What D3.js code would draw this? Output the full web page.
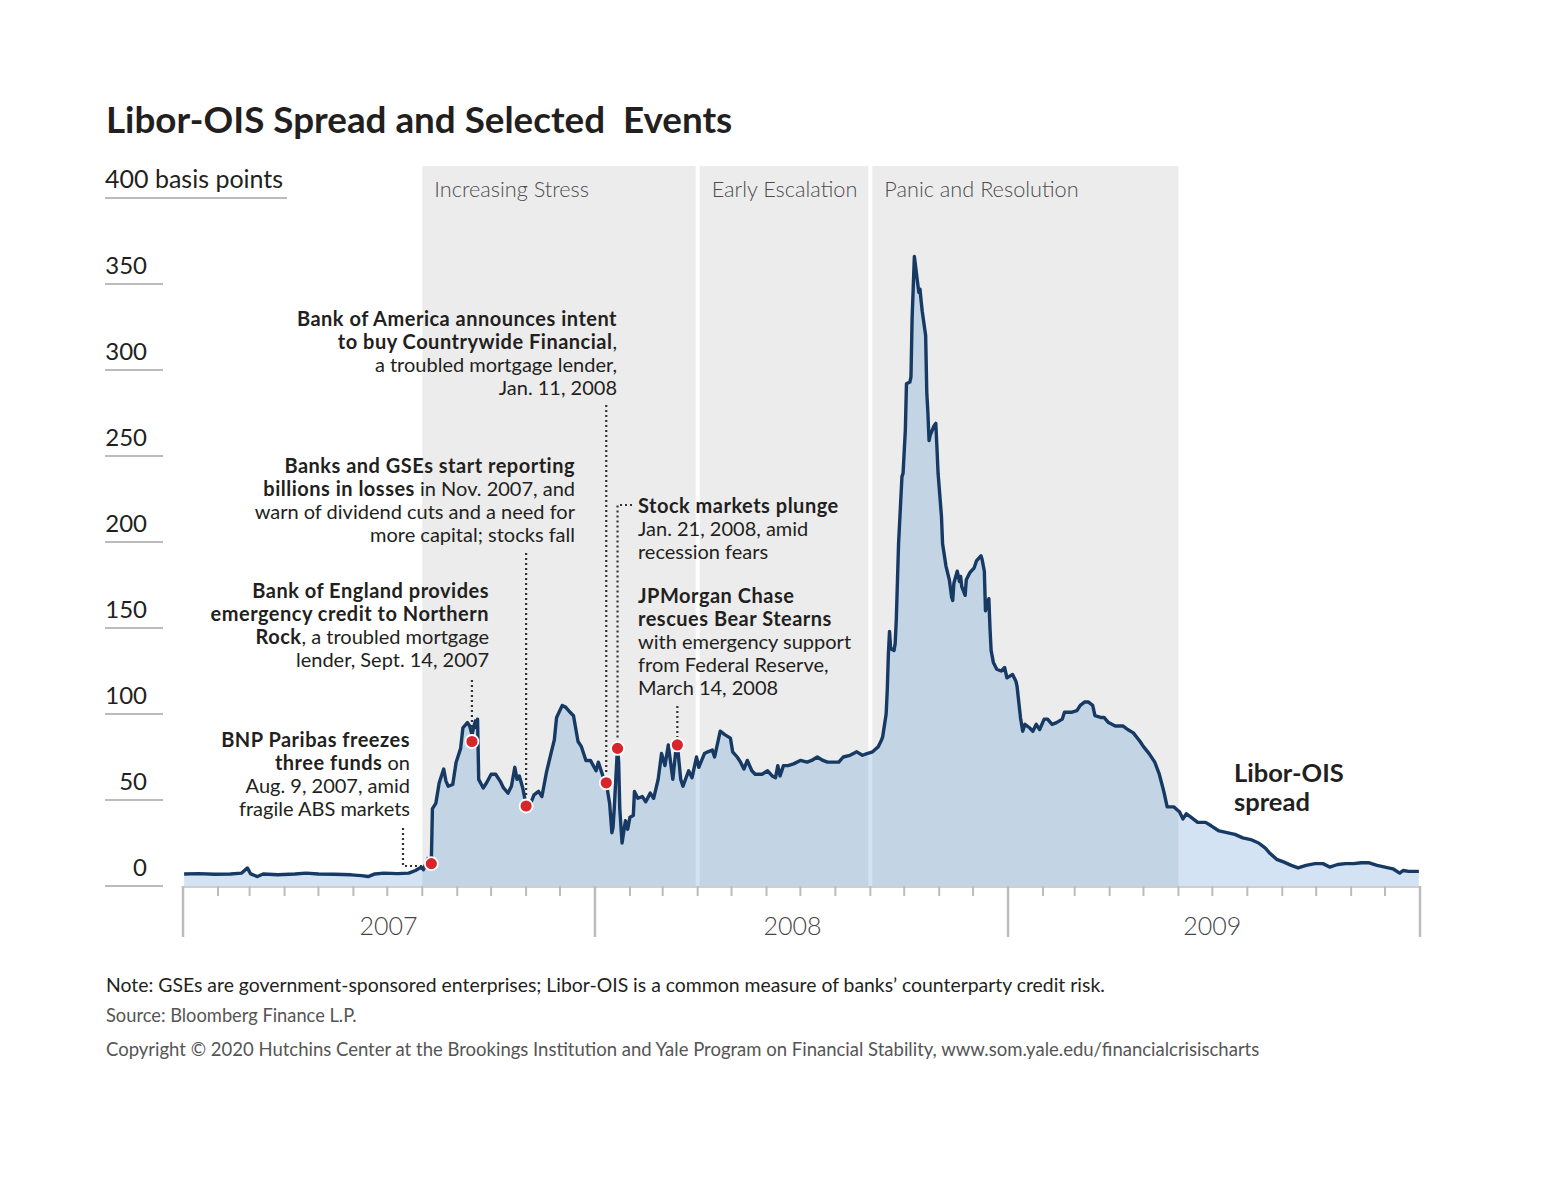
<!DOCTYPE html>
<html>
<head>
<meta charset="utf-8">
<script src="https://cdn.jsdelivr.net/npm/d3@7"></script>
<style>
  html, body { margin: 0; padding: 0; background: #fff; }
  svg { display: block; font-family: Lato, "Open Sans", sans-serif; }
</style>
</head>
<body>
<svg id="chart" width="1553" height="1200"></svg>
<script>
// ---------------- DATA ----------------
const dates = [
 "2007-01-02","2007-01-15","2007-01-29","2007-02-12","2007-02-22","2007-02-27","2007-03-02","2007-03-08","2007-03-13","2007-03-26",
 "2007-04-10","2007-04-20","2007-05-01","2007-05-15","2007-05-30","2007-06-08","2007-06-14","2007-06-20","2007-06-28","2007-07-10",
 "2007-07-20","2007-07-26","2007-07-31","2007-08-02","2007-08-06","2007-08-08","2007-08-09","2007-08-10","2007-08-13","2007-08-16",
 "2007-08-20","2007-08-22","2007-08-24","2007-08-28","2007-08-31","2007-09-04","2007-09-06","2007-09-10","2007-09-12","2007-09-14",
 "2007-09-17","2007-09-18","2007-09-19","2007-09-20","2007-09-24","2007-09-27","2007-10-01","2007-10-05","2007-10-09","2007-10-12",
 "2007-10-16","2007-10-19","2007-10-22","2007-10-24","2007-10-26","2007-10-29","2007-11-01","2007-11-05","2007-11-08","2007-11-12",
 "2007-11-15","2007-11-19","2007-11-23","2007-11-26","2007-11-28","2007-12-03","2007-12-06","2007-12-10","2007-12-13","2007-12-17",
 "2007-12-20","2007-12-24","2007-12-28","2008-01-02","2008-01-04","2008-01-08","2008-01-11","2008-01-14","2008-01-16","2008-01-17",
 "2008-01-18","2008-01-21","2008-01-22","2008-01-23","2008-01-25","2008-01-28","2008-01-30","2008-02-01","2008-02-04","2008-02-05",
 "2008-02-08","2008-02-12","2008-02-15","2008-02-19","2008-02-22","2008-02-26","2008-02-29","2008-03-03","2008-03-06","2008-03-10",
 "2008-03-13","2008-03-14","2008-03-17","2008-03-19","2008-03-24","2008-03-27","2008-03-31","2008-04-02","2008-04-07","2008-04-10",
 "2008-04-14","2008-04-16","2008-04-21","2008-04-25","2008-04-30","2008-05-02","2008-05-06","2008-05-09","2008-05-12","2008-05-15",
 "2008-05-19","2008-05-22","2008-05-28","2008-06-02","2008-06-06","2008-06-09","2008-06-11","2008-06-13","2008-06-16","2008-06-20",
 "2008-06-25","2008-07-01","2008-07-07","2008-07-11","2008-07-16","2008-07-21","2008-07-25","2008-07-30","2008-08-04","2008-08-08",
 "2008-08-14","2008-08-20","2008-08-25","2008-08-29","2008-09-03","2008-09-08","2008-09-11","2008-09-12","2008-09-15","2008-09-16",
 "2008-09-17","2008-09-18","2008-09-19","2008-09-22","2008-09-23","2008-09-24","2008-09-26","2008-09-29","2008-09-30","2008-10-02",
 "2008-10-03","2008-10-06","2008-10-07","2008-10-08","2008-10-09","2008-10-10","2008-10-13","2008-10-14","2008-10-15","2008-10-16",
 "2008-10-17","2008-10-20","2008-10-21","2008-10-22","2008-10-23","2008-10-24","2008-10-27","2008-10-28","2008-10-29","2008-10-30",
 "2008-10-31","2008-11-03","2008-11-04","2008-11-07","2008-11-10","2008-11-12","2008-11-13","2008-11-14","2008-11-17","2008-11-19",
 "2008-11-20","2008-11-21","2008-11-24","2008-11-25","2008-11-28","2008-12-02","2008-12-04","2008-12-08","2008-12-09","2008-12-11",
 "2008-12-12","2008-12-15","2008-12-16","2008-12-17","2008-12-19","2008-12-22","2008-12-26","2008-12-29","2008-12-31","2009-01-05",
 "2009-01-08","2009-01-09","2009-01-12","2009-01-14","2009-01-16","2009-01-20","2009-01-23","2009-01-26","2009-01-29","2009-02-02",
 "2009-02-05","2009-02-09","2009-02-13","2009-02-18","2009-02-20","2009-02-26","2009-03-03","2009-03-06","2009-03-10","2009-03-13",
 "2009-03-17","2009-03-19","2009-03-24","2009-03-27","2009-03-31","2009-04-06","2009-04-13","2009-04-17","2009-04-22","2009-04-28",
 "2009-05-01","2009-05-06","2009-05-11","2009-05-15","2009-05-19","2009-05-22","2009-05-28","2009-06-02","2009-06-05","2009-06-08",
 "2009-06-12","2009-06-18","2009-06-25","2009-06-30","2009-07-07","2009-07-14","2009-07-21","2009-07-28","2009-08-04","2009-08-11",
 "2009-08-17","2009-08-21","2009-08-27","2009-09-02","2009-09-09","2009-09-15","2009-09-22","2009-09-30","2009-10-07","2009-10-13",
 "2009-10-20","2009-10-27","2009-11-03","2009-11-10","2009-11-17","2009-11-24","2009-12-01","2009-12-08","2009-12-14","2009-12-17",
 "2009-12-22","2009-12-31"
];
const spread = [
 7,7.2,6.8,7,7.5,10.5,7,5.5,7,6.5,
 7,7.5,7,6.8,6.5,6,5.5,7,7.5,7.2,
 7.5,9,11,9.5,16,12,13,45,48,60,
 68,61,58,59,72,80,92,95,93,88,
 96,92,97,62,57,60,65,65,61,57,
 54,58,69,62,64,57,47,48,53,55,
 52,66,77,85,98,105,104,101,99,84,
 81,73,73,67,72,64,60,48,31,34,
 44,81,72,45,25,38,33,40,41,55,
 51,52,49,54,51,62,77,70,82,62,
 81,82,62,58,67,63,75,69,77,78,
 79,75,90,88,86,78,75,72,68,73,
 67,65,65,67,64,63,70,64,70,70,
 71,73,72,73,75,73,72,72,72,75,
 76,78,76,77,78,81,85,87,100,114,
 135,148,138,137,141,155,199,238,240,265,
 292,293,296,330,348,366,350,345,347,340,
 334,320,287,275,259,262,267,268,269,255,
 240,215,199,186,178,168,166,176,183,177,
 180,174,169,178,182,185,189,192,190,183,
 160,167,150,137,130,126,125,127,121,123,
 119,116,98,90,94,92,90,94,91,97,
 97,94,95,97,101,101,102,105,107,107,
 105,99,98,98,95,93,93,91,89,84,
 81,77,72,65,55,46,46,43,39,42,
 40,37,37,35,32,31,30,28,27,25,
 22,19,15.5,14,12,10.5,12,13,13,11,
 12.5,13,13,13.5,13.5,12,11,10,7.5,9,
 8.5,8.5
];

const eventDates  = ["2007-08-09","2007-09-14","2007-11-01","2008-01-11","2008-01-21","2008-03-14"];
const eventValues = [13, 84, 46.5, 60, 80, 82];

const bandNames  = ["Increasing Stress", "Early Escalation", "Panic and Resolution"];
const bandStarts = ["2007-08-01", "2008-04-01", "2008-09-01"];
const bandEnds   = ["2008-04-01", "2008-09-01", "2009-06-01"];

const yTickValues = [0, 50, 100, 150, 200, 250, 300, 350];
const yTopValue = 400;
const yTopLabel = "400 basis points";
const yearLabels = ["2007", "2008", "2009"];
const yearLabelDates = ["2007-07-02", "2008-06-24", "2009-07-01"];

// ---------------- SETUP ----------------
const parse = d3.timeParse("%Y-%m-%d");
const data = dates.map((d, i) => ({ date: parse(d), value: spread[i] }));

const svg = d3.select("#chart");
const x = d3.scaleTime()
  .domain([new Date(2007, 0, 1), new Date(2010, 0, 1)])
  .range([183, 1420]);
const y = d3.scaleLinear().domain([0, 400]).range([886, 198]);

const TEXT = "#231f20";
const GRAY_LINE = "#bcbcbc";

// Title
svg.append("text")
  .attr("x", 106).attr("y", 133)
  .style("white-space", "pre")
  .attr("font-size", 36.8).attr("font-weight", 700).attr("fill", TEXT)
  .text("Libor-OIS Spread and Selected  Events");

// Bands
const bandTop = 166;
const bands = bandNames.map((n, i) => ({ name: n, s: parse(bandStarts[i]), e: parse(bandEnds[i]), i }));
const bandX0 = b => x(b.s) + (b.i === 0 ? 0 : 2);
const bandX1 = b => x(b.e) - (b.i === bands.length - 1 ? 0 : 2);

svg.append("g").selectAll("rect").data(bands).join("rect")
  .attr("x", bandX0).attr("y", bandTop)
  .attr("width", b => bandX1(b) - bandX0(b))
  .attr("height", y(0) - bandTop)
  .attr("fill", "#ececec");

svg.append("g").selectAll("text").data(bands).join("text")
  .attr("x", b => bandX0(b) + 12).attr("y", 197)
  .attr("font-size", 21.7).attr("font-weight", 300).attr("fill", "#4d4d4d")
  .text(b => b.name);

// clip for bands
const defs = svg.append("defs");
const clip = defs.append("clipPath").attr("id", "bandclip");
clip.selectAll("rect").data(bands).join("rect")
  .attr("x", bandX0).attr("y", bandTop)
  .attr("width", b => bandX1(b) - bandX0(b))
  .attr("height", y(0) - bandTop);

// Area
const area = d3.area().x(d => x(d.date)).y0(y(0)).y1(d => y(d.value));
svg.append("path").datum(data).attr("d", area).attr("fill", "#d4e3f4");
svg.append("path").datum(data).attr("d", area).attr("fill", "#c3d4e5").attr("clip-path", "url(#bandclip)");

// Y axis labels + underlines
const yg = svg.append("g");
yg.selectAll("line").data(yTickValues).join("line")
  .attr("x1", 105).attr("x2", 163)
  .attr("y1", d => y(d)).attr("y2", d => y(d))
  .attr("stroke", GRAY_LINE).attr("stroke-width", 2);
yg.selectAll("text").data(yTickValues).join("text")
  .attr("x", 147).attr("y", d => y(d) - 10)
  .attr("text-anchor", "end")
  .attr("font-size", 24).attr("fill", TEXT)
  .text(d => d);
yg.append("line").attr("x1", 105).attr("x2", 287)
  .attr("y1", y(yTopValue)).attr("y2", y(yTopValue))
  .attr("stroke", GRAY_LINE).attr("stroke-width", 2);
yg.append("text").attr("x", 105).attr("y", y(yTopValue) - 10)
  .attr("font-size", 25).attr("fill", TEXT).text(yTopLabel);

// X axis
const xg = svg.append("g");
xg.append("line").attr("x1", x.range()[0]).attr("x2", x.range()[1])
  .attr("y1", y(0) + 1).attr("y2", y(0) + 1)
  .attr("stroke", "#cfcfcf").attr("stroke-width", 2);
const months = d3.timeMonth.range(x.domain()[0], d3.timeDay.offset(x.domain()[1], 1));
xg.selectAll("line.tick").data(months).join("line").attr("class", "tick")
  .attr("x1", d => x(d)).attr("x2", d => x(d))
  .attr("y1", y(0))
  .attr("y2", d => d.getMonth() === 0 ? y(0) + 51 : y(0) + 10)
  .attr("stroke", GRAY_LINE)
  .attr("stroke-width", d => d.getMonth() === 0 ? 2.5 : 2);
xg.selectAll("text").data(yearLabels).join("text")
  .attr("x", (d, i) => x(parse(yearLabelDates[i])))
  .attr("y", 935)
  .attr("text-anchor", "middle")
  .attr("font-size", 25).attr("font-weight", 300).attr("fill", "#444")
  .text(d => d);

// Line
const line = d3.line().x(d => x(d.date)).y(d => y(d.value));
svg.append("path").datum(data).attr("d", line)
  .attr("fill", "none").attr("stroke", "#173a64").attr("stroke-width", 3.4)
  .attr("stroke-linejoin", "round");

// Annotations
const events = eventDates.map((d, i) => ({ date: parse(d), value: eventValues[i] }));
const lead = svg.append("g").attr("stroke", "#333").attr("stroke-width", 2.2)
  .attr("stroke-dasharray", "2,3").attr("fill", "none");
const ex = i => x(events[i].date);
const ey = i => y(events[i].value);
lead.append("path").attr("d", `M403,828 V866 H${ex(0) - 8}`);
lead.append("path").attr("d", `M${ex(1)},680 V${ey(1) - 8}`);
lead.append("path").attr("d", `M${ex(2)},553 V${ey(2) - 8}`);
lead.append("path").attr("d", `M${ex(3)},405 V${ey(3) - 8}`);
lead.append("path").attr("d", `M632,505 H${ex(4)} V${ey(4) - 8}`);
lead.append("path").attr("d", `M${ex(5)},706 V${ey(5) - 8}`);

svg.append("g").selectAll("circle").data(events).join("circle")
  .attr("cx", d => x(d.date)).attr("cy", d => y(d.value)).attr("r", 6.5)
  .attr("fill", "#d7262b").attr("stroke", "#fff").attr("stroke-width", 1.8);

const notes = [
  { x: 617, y: 326, anchor: "end", lines: [
    [["Bank of America announces intent", 1]],
    [["to buy Countrywide Financial", 1], [",", 0]],
    [["a troubled mortgage lender,", 0]],
    [["Jan. 11, 2008", 0]] ] },
  { x: 575, y: 473, anchor: "end", lines: [
    [["Banks and GSEs start reporting", 1]],
    [["billions in losses", 1], [" in Nov. 2007, and", 0]],
    [["warn of dividend cuts and a need for", 0]],
    [["more capital; stocks fall", 0]] ] },
  { x: 489, y: 598, anchor: "end", lines: [
    [["Bank of England provides", 1]],
    [["emergency credit to Northern", 1]],
    [["Rock", 1], [", a troubled mortgage", 0]],
    [["lender, Sept. 14, 2007", 0]] ] },
  { x: 410, y: 747, anchor: "end", lines: [
    [["BNP Paribas freezes", 1]],
    [["three funds", 1], [" on", 0]],
    [["Aug. 9, 2007, amid", 0]],
    [["fragile ABS markets", 0]] ] },
  { x: 638, y: 513, anchor: "start", lines: [
    [["Stock markets plunge", 1]],
    [["Jan. 21, 2008, amid", 0]],
    [["recession fears", 0]] ] },
  { x: 638, y: 603, anchor: "start", lines: [
    [["JPMorgan Chase", 1]],
    [["rescues Bear Stearns", 1]],
    [["with emergency support", 0]],
    [["from Federal Reserve,", 0]],
    [["March 14, 2008", 0]] ] }
];
const ng = svg.append("g").attr("font-size", 20).attr("fill", TEXT);
notes.forEach(n => {
  n.lines.forEach((segs, li) => {
    const t = ng.append("text").attr("x", n.x).attr("y", n.y + li * 23)
      .attr("text-anchor", n.anchor).style("white-space", "pre");
    segs.forEach(s => t.append("tspan")
      .attr("font-weight", s[1] ? 700 : 400)
      .attr("letter-spacing", s[1] ? 0.5 : 0)
      .text(s[0]));
  });
});

// Series label
svg.append("text").attr("x", 1234).attr("y", 782)
  .attr("font-size", 25.5).attr("font-weight", 700).attr("fill", TEXT).text("Libor-OIS");
svg.append("text").attr("x", 1234).attr("y", 811)
  .attr("font-size", 25.5).attr("font-weight", 700).attr("fill", TEXT).text("spread");

// Footer
svg.append("text").attr("x", 106).attr("y", 992).attr("font-size", 19.4).attr("fill", TEXT)
  .text("Note: GSEs are government-sponsored enterprises; Libor-OIS is a common measure of banks\u2019 counterparty credit risk.");
svg.append("text").attr("x", 106).attr("y", 1022).attr("font-size", 18.3).attr("fill", "#555")
  .text("Source: Bloomberg Finance L.P.");
svg.append("text").attr("x", 106).attr("y", 1056).attr("font-size", 18.5).attr("fill", "#555")
  .text("Copyright \u00a9 2020 Hutchins Center at the Brookings Institution and Yale Program on Financial Stability, www.som.yale.edu/financialcrisischarts");
</script>
</body>
</html>
